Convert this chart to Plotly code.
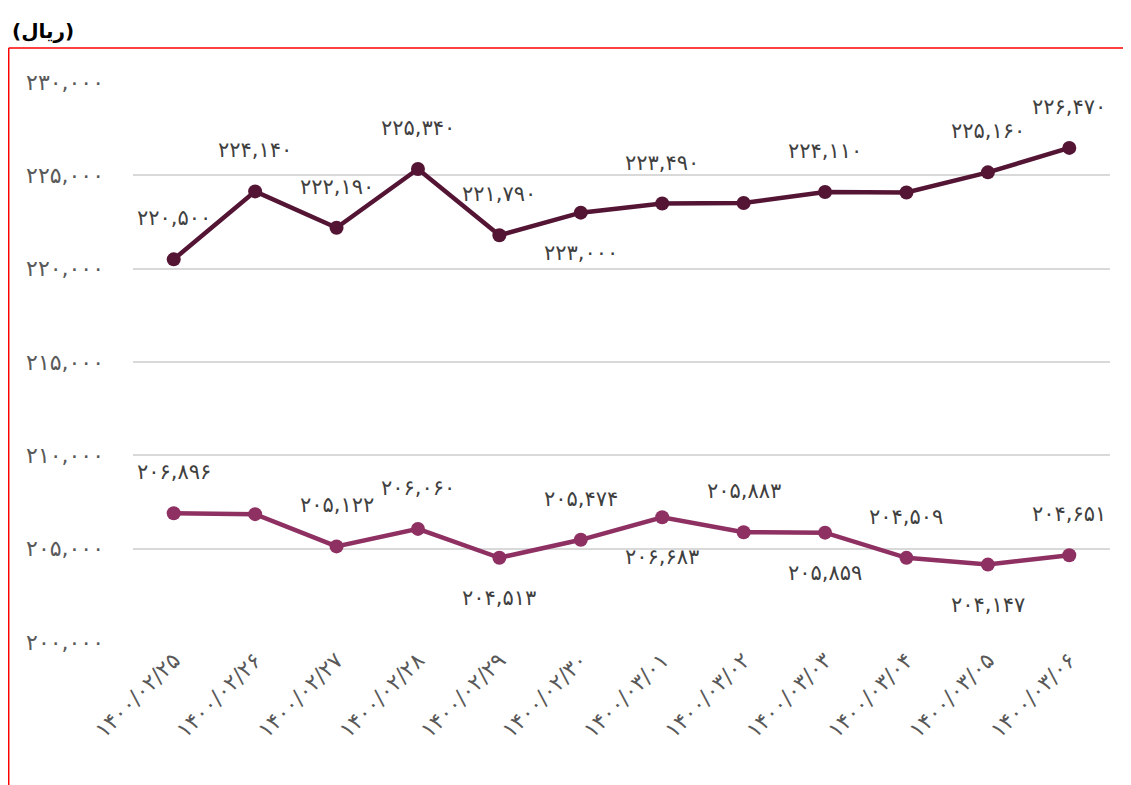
import plotly.graph_objects as go

dates = ["1400/02/25", "1400/02/26", "1400/02/27", "1400/02/28", "1400/02/29", "1400/02/30",
         "1400/03/01", "1400/03/02", "1400/03/03", "1400/03/04", "1400/03/05", "1400/03/06"]
series_top = [220500, 224140, 222190, 225340, 221790, 223000, 223490, 223520, 224110, 224080, 225160, 226470]
series_bottom = [206896, 206850, 205122, 206060, 204513, 205474, 206683, 205883, 205859, 204509, 204147, 204651]
# label placement: 1 = above, -1 = below, 0 = hidden
label_top = [1, 1, 1, 1, 1, -1, 1, 0, 1, 0, 1, 1]
label_bottom = [1, 0, 1, 1, -1, 1, -1, 1, -1, 1, -1, 1]
y_ticks = [200000, 205000, 210000, 215000, 220000, 225000, 230000]

FA = str.maketrans("0123456789", "۰۱۲۳۴۵۶۷۸۹")


def fa(s):
    return str(s).translate(FA)


def fmt(v):
    return fa(f"{v:,}")


cats = [fa(d) for d in dates]
FONT = "DejaVu Sans"

fig = go.Figure()
for vals, color in [(series_top, "#541535"), (series_bottom, "#8E3062")]:
    fig.add_trace(go.Scatter(
        x=cats, y=vals, mode="lines+markers",
        line=dict(color=color, width=4.5),
        marker=dict(color=color, size=14),
        hoverinfo="skip", showlegend=False,
    ))

for vals, pos in [(series_top, label_top), (series_bottom, label_bottom)]:
    for c, v, p in zip(cats, vals, pos):
        if p == 0:
            continue
        fig.add_annotation(
            x=c, y=v, xref="x", yref="y", text=fmt(v), showarrow=False,
            yshift=41 if p > 0 else -40,
            font=dict(family=FONT, size=21, color="#404040"),
        )

# unit label
fig.add_annotation(
    xref="paper", yref="paper", x=-0.1259, y=1.091, xanchor="left", yanchor="middle",
    text="<b>(ریال)</b>", showarrow=False,
    font=dict(family=FONT, size=20, color="#000000"),
)

# red frame lines
fig.add_shape(type="line", xref="paper", yref="paper", x0=-0.1272, x1=1.03, y0=1.0607, y1=1.0607,
              line=dict(color="#ff0000", width=1.5))
fig.add_shape(type="line", xref="paper", yref="paper", x0=-0.1272, x1=-0.1272, y0=1.0607, y1=-0.27,
              line=dict(color="#ff0000", width=1.5))

fig.update_layout(
    width=1123, height=777,
    margin=dict(l=125, r=21, t=74, b=143),
    paper_bgcolor="white", plot_bgcolor="white",
    font=dict(family=FONT, color="#595959"),
)
fig.update_xaxes(
    type="category", range=[-0.5, 11.5], showgrid=False, zeroline=False, showline=False,
    tickangle=-45, tickfont=dict(family=FONT, size=22, color="#595959"), ticks="",
)
fig.update_yaxes(
    range=[200000, 230000], tickvals=y_ticks, ticktext=[fmt(t) for t in y_ticks],
    showgrid=True, gridcolor="#d9d9d9", gridwidth=1.5, zeroline=False, showline=False,
    tickfont=dict(family=FONT, size=22, color="#595959"), ticks="", ticklabelstandoff=28,
)

fig.write_html("out.html")
